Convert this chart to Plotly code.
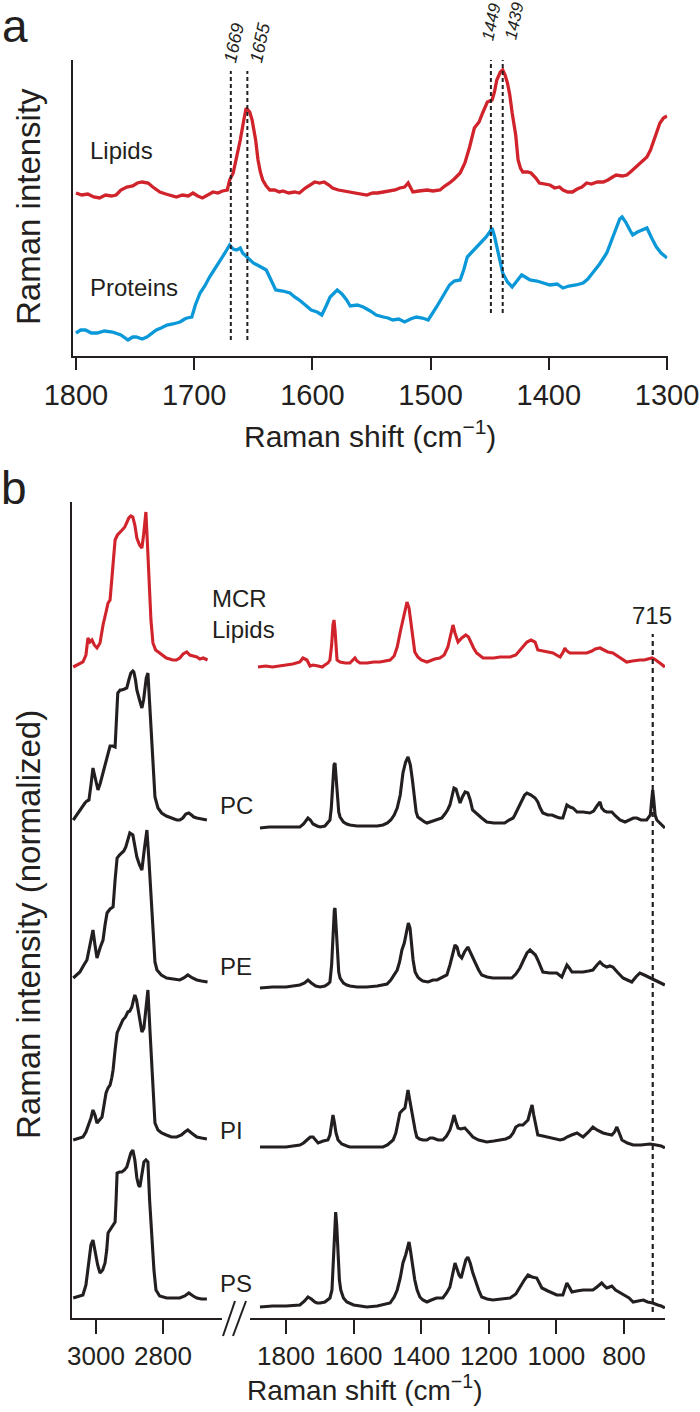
import plotly.graph_objects as go

# ---------------- Panel a data (Raman shift cm-1, intensity a.u.) ----------------
lip_a_x = [1800,1795,1790,1785,1780,1775,1770,1766,1762,1757,1752,1748,1744,1739,1735,1729,1724,1719,1715,1710,
           1705,1701,1697,1693,1689,1684,1680,1676,1672,1670,1667,1664,1661,1658,1656,1653,1651,1648,1646,1644,
           1642,1639,1636,1632,1628,1625,1620,1615,1611,1606,1602,1598,1594,1590,1586,1583,1578,1573,1568,1563,
           1558,1554,1549,1545,1540,1535,1530,1526,1522,1519,1517,1515,1510,1506,1503,1498,1492,1488,1484,1480,
           1475,1471,1467,1463,1459,1456,1452,1448,1446,1444,1441,1439,1437,1435,1433,1431,1428,1426,1424,1422,
           1418,1415,1411,1408,1404,1399,1395,1391,1388,1384,1380,1376,1372,1368,1364,1359,1354,1350,1346,1343,
           1338,1334,1330,1326,1322,1317,1314,1312,1309,1306,1303,1300]
lip_a_y = [5,3,4,1,0,3,2,3,8,11,12,15,16,15,11,6,4,2,1,3,
           2,5,2,0,3,6,5,7,8,18,25,40,58,78,90,86,78,58,38,26,
           18,12,8,8,6,7,5,6,5,10,13,16,15,16,13,10,8,7,6,5,
           4,3,5,5,6,7,8,10,11,15,11,6,7,8,8,7,8,12,15,19,
           25,35,51,70,76,85,96,98,106,118,126,128,123,115,103,85,63,38,30,26,
           26,25,20,15,14,13,10,11,8,6,6,9,11,15,14,16,16,18,21,23,
           22,23,27,31,35,41,48,55,66,75,80,82]

pro_a_x = [1800,1796,1792,1787,1782,1776,1769,1762,1756,1752,1749,1744,1740,1736,1732,1728,1723,1718,1712,1708,
           1706,1702,1699,1695,1691,1687,1683,1678,1674,1670,1667,1664,1661,1659,1654,1650,1645,1639,1635,1631,
           1625,1619,1615,1611,1606,1601,1596,1592,1588,1585,1579,1575,1571,1568,1562,1557,1551,1546,1540,1536,
           1532,1527,1522,1517,1512,1507,1502,1498,1495,1490,1484,1480,1475,1472,1469,1465,1461,1457,1453,1450,
           1448,1446,1444,1441,1439,1435,1431,1427,1423,1420,1416,1410,1405,1399,1393,1388,1383,1377,1371,1367,
           1363,1357,1351,1347,1343,1340,1338,1335,1331,1329,1325,1321,1317,1313,1309,1305,1300]
pro_a_y = [7,10,10,7,7,9,8,5,0,3,3,1,3,7,10,12,15,16,18,21,
           22,23,35,47,54,63,70,80,87,95,91,90,92,87,82,77,74,70,60,50,
           49,47,43,40,35,30,28,25,35,43,50,46,40,34,35,33,29,25,23,22,
           20,21,18,21,23,22,20,27,33,43,55,59,60,70,83,88,93,98,103,108,
           112,104,93,78,67,58,53,59,65,63,60,59,57,55,56,52,54,55,57,61,
           67,76,87,100,113,121,123,118,109,105,108,110,112,102,93,87,82]

# offsets used to stack the two spectra of panel a
offset_a = {"Lipids": 158, "Proteins": 16}
peaks_a = [1669, 1655, 1449, 1439]

# ---------------- Panel b data ----------------
# high-wavenumber region
hi_x = {
    "MCR": [3068,3055,3039,3030,3024,3018,3012,3005,2997,2988,2979,2970,2964,2958,2952,2946,2943,2936,2929,2922,
            2914,2908,2902,2896,2890,2884,2878,2870,2863,2858,2854,2851,2847,2842,2836,2830,2822,2810,2800,2790,
            2780,2771,2760,2750,2740,2729,2720,2710,2699,2690,2680,2667],
    "PC": [3068,3058,3048,3040,3033,3027,3021,3015,3009,3003,2994,2987,2979,2970,2964,2958,2950,2943,2939,2935,
           2928,2923,2915,2908,2902,2896,2890,2887,2882,2878,2870,2863,2858,2854,2850,2845,2840,2836,2833,2828,
           2824,2815,2804,2790,2775,2759,2750,2741,2732,2723,2715,2708,2699,2685,2669],
    "PE": [3068,3058,3048,3038,3027,3018,3009,3003,2997,2988,2979,2973,2967,2958,2949,2943,2937,2930,2923,2917,
           2911,2905,2899,2890,2884,2878,2870,2863,2856,2848,2842,2836,2830,2824,2818,2805,2789,2770,2750,2738,
           2726,2712,2699,2685,2667],
    "PI": [3068,3055,3039,3030,3024,3015,3009,3003,2997,2989,2982,2976,2970,2964,2958,2953,2949,2943,2937,2932,
           2929,2924,2920,2912,2905,2899,2893,2888,2884,2879,2875,2869,2863,2857,2851,2845,2839,2833,2828,2824,
           2815,2804,2790,2775,2759,2745,2735,2726,2715,2699,2685,2669],
    "PS": [3068,3055,3039,3030,3021,3015,3009,3003,2995,2988,2980,2973,2968,2964,2955,2949,2943,2940,2937,2930,
           2923,2915,2908,2902,2896,2890,2884,2878,2873,2869,2863,2857,2851,2845,2840,2836,2833,2827,2821,2810,
           2789,2770,2750,2735,2723,2710,2699,2685,2669],
}
hi_y = {
    "MCR": [1,3,6,13,30,26,28,23,20,25,43,56,65,68,93,120,128,133,136,138,
            141,146,150,152,151,143,130,123,120,133,150,156,128,88,48,25,18,15,12,10,
            9,8,8,10,14,16,13,12,11,9,10,8],
    "PC": [8,13,18,22,25,27,28,43,60,51,38,45,56,68,76,82,82,81,108,135,
           138,138,139,140,148,155,157,156,148,138,128,120,128,138,150,155,128,108,88,58,
           31,20,15,12,10,8,8,10,14,15,13,11,10,9,8],
    "PE": [10,13,16,22,28,43,58,43,30,40,48,63,75,79,81,108,130,133,135,137,
           141,148,155,153,143,131,123,118,138,158,128,95,53,26,18,13,10,9,8,10,
           13,10,8,7,6],
    "PI": [8,9,11,16,21,30,38,33,25,28,31,43,55,60,63,70,78,98,115,119,
           121,124,128,131,136,137,141,148,153,148,141,128,116,120,143,158,118,81,48,25,
           18,15,13,11,11,13,16,18,15,11,10,9],
    "PS": [10,11,13,23,48,63,68,56,43,35,38,45,58,75,80,83,86,108,135,136,
           136,138,141,148,155,158,148,130,123,121,133,146,148,146,108,83,68,38,18,12,
           10,10,10,12,15,12,10,9,9],
}
# fingerprint region
lo_x = {
    "MCR": [1883,1860,1840,1820,1800,1780,1759,1750,1744,1738,1729,1720,1705,1693,1685,1676,1670,1665,1661,1658,
            1655,1652,1649,1640,1625,1611,1600,1596,1590,1581,1560,1540,1522,1510,1492,1480,1471,1462,1454,1448,
            1442,1436,1431,1427,1422,1419,1410,1400,1383,1370,1360,1345,1332,1321,1312,1306,1300,1291,1280,1268,
            1260,1256,1245,1236,1225,1217,1200,1185,1167,1150,1137,1120,1108,1095,1087,1075,1063,1055,1040,1025,
            1010,995,989,980,975,969,960,945,930,910,895,885,871,860,848,833,815,800,792,775,
            760,753,740,725,717,710,700,690,679],
    "PC": [1877,1850,1820,1790,1759,1748,1740,1735,1728,1720,1708,1699,1685,1676,1670,1666,1662,1658,1655,1652,
           1648,1644,1640,1630,1620,1611,1590,1560,1530,1513,1500,1490,1480,1471,1462,1454,1446,1439,1432,1426,
           1420,1415,1410,1400,1390,1383,1374,1360,1350,1339,1330,1322,1315,1308,1303,1297,1290,1285,1278,1270,
           1262,1255,1248,1236,1221,1206,1185,1167,1153,1140,1128,1123,1110,1102,1094,1087,1075,1063,1055,1048,
           1040,1025,1013,999,990,981,975,969,960,951,939,921,901,890,880,871,866,858,851,836,
           825,812,797,785,772,762,750,733,722,718,715,712,708,703,695,686,679],
    "PE": [1877,1840,1800,1759,1745,1735,1725,1712,1699,1685,1676,1670,1665,1661,1657,1655,1652,1648,1644,1640,
           1630,1620,1611,1590,1561,1530,1501,1490,1480,1471,1464,1457,1450,1444,1438,1433,1428,1424,1418,1410,
           1404,1395,1380,1365,1353,1340,1324,1315,1306,1300,1294,1288,1280,1272,1262,1255,1248,1241,1230,1221,
           1205,1188,1160,1132,1120,1108,1097,1087,1078,1069,1062,1055,1048,1040,1020,999,984,975,969,962,
           954,940,921,905,892,880,871,862,851,842,833,820,803,790,777,765,753,740,723,705,
           690,679],
    "PI": [1877,1840,1800,1759,1748,1738,1728,1720,1713,1705,1690,1676,1670,1666,1661,1657,1652,1646,1635,1620,
           1611,1580,1550,1513,1500,1483,1475,1468,1463,1455,1448,1443,1439,1435,1430,1424,1418,1413,1405,1395,
           1383,1374,1365,1350,1336,1325,1315,1308,1303,1297,1291,1283,1271,1260,1247,1230,1206,1185,1167,1150,
           1137,1128,1120,1110,1099,1090,1084,1078,1072,1067,1063,1058,1055,1040,1028,1010,989,978,969,955,
           939,930,921,905,892,880,870,862,850,836,828,821,814,806,790,773,750,723,705,690,
           679],
    "PS": [1877,1840,1800,1759,1745,1735,1725,1715,1708,1699,1685,1670,1664,1660,1656,1653,1650,1646,1642,1638,
           1630,1620,1600,1580,1561,1530,1500,1492,1480,1471,1462,1454,1446,1440,1436,1432,1426,1419,1412,1404,
           1395,1383,1370,1355,1336,1325,1315,1308,1300,1295,1288,1282,1275,1268,1262,1255,1248,1241,1230,1221,
           1205,1188,1160,1137,1120,1108,1095,1084,1072,1058,1050,1043,1025,1010,999,981,975,969,962,954,
           940,921,905,892,880,866,858,851,843,836,825,812,800,785,773,758,743,730,715,700,
           690,679],
}
lo_y = {
    "MCR": [1,2,1,2,3,4,6,10,9,8,2,3,2,1,3,5,8,23,43,48,
            38,20,8,6,5,5,8,10,7,5,5,6,6,7,8,12,21,36,48,60,
            66,60,46,33,20,16,11,8,6,8,9,10,13,21,35,43,35,26,30,33,
            31,28,20,15,12,10,10,10,11,11,11,13,18,23,26,28,26,18,17,16,
            15,12,11,16,20,17,15,15,15,15,17,19,20,18,16,15,11,7,6,7,
            8,8,8,9,10,9,6,4,1],
    "PC": [0,1,1,1,1,4,8,10,8,4,2,1,2,5,8,20,43,63,65,53,
           28,16,11,6,4,3,2,2,2,3,5,8,13,20,33,55,66,71,63,48,
           28,16,11,8,6,5,6,8,9,10,14,18,23,33,40,39,30,25,31,36,
           35,28,18,14,10,6,5,5,5,8,10,13,22,28,33,35,33,30,26,20,
           15,13,13,11,10,10,18,23,21,20,16,16,15,17,22,26,20,17,16,16,
           12,8,6,8,10,10,8,8,13,28,38,28,13,8,5,2,0],
    "PE": [0,1,1,3,5,8,5,2,1,2,4,6,23,53,78,80,63,33,16,10,
           5,3,2,1,1,2,4,8,13,18,26,38,45,56,65,60,43,28,16,11,
           9,7,6,8,8,10,13,23,35,43,41,33,30,36,41,36,30,25,18,13,
           11,10,10,10,14,20,28,35,38,35,33,28,22,16,15,15,11,18,23,20,
           16,16,16,17,18,23,26,23,21,22,21,16,10,8,6,11,15,13,10,7,
           5,3],
    "PI": [1,1,1,3,5,8,11,11,8,5,7,8,13,23,33,26,15,8,4,2,
           1,1,1,1,3,8,15,26,35,38,40,50,58,50,40,31,18,11,9,8,
           8,10,10,8,8,12,18,26,33,26,20,19,20,16,11,8,6,7,8,9,
           11,15,21,23,23,26,28,36,43,33,26,18,13,12,11,9,8,9,11,13,
           15,13,11,16,21,18,16,15,14,13,16,21,15,8,5,3,3,4,3,2,
           0],
    "PS": [1,2,2,3,7,11,9,6,5,5,6,10,18,48,83,96,83,48,28,18,
           10,6,3,2,1,2,4,5,11,18,30,45,53,63,66,58,43,28,18,11,
           8,6,8,10,10,15,21,33,45,40,33,30,40,48,51,45,36,28,18,11,
           9,8,9,10,14,21,28,33,31,30,25,20,17,15,13,13,20,25,21,16,
           17,18,18,18,21,25,22,20,21,22,18,15,13,10,6,7,8,6,5,3,
           2,0],
}
spectra_b = ["MCR", "PC", "PE", "PI", "PS"]
offset_b = {"MCR": 650, "PC": 490, "PE": 330, "PI": 170, "PS": 10}
marker_b = 715

RED = "#d1232b"
BLUE = "#0b98d8"
BLACK = "#231f20"
FONT = "Liberation Sans, Arial, Helvetica, sans-serif"

W, H = 700, 1412
def px(x):
    return x / W
def py(y):
    return 1 - y / H

fig = go.Figure()

# panel a traces
fig.add_trace(go.Scatter(x=lip_a_x, y=[v + offset_a["Lipids"] for v in lip_a_y], mode="lines",
                         line=dict(color=RED, width=3.3), xaxis="x", yaxis="y", showlegend=False))
fig.add_trace(go.Scatter(x=pro_a_x, y=[v + offset_a["Proteins"] for v in pro_a_y], mode="lines",
                         line=dict(color=BLUE, width=3.3), xaxis="x", yaxis="y", showlegend=False))

# panel b traces
for name in spectra_b:
    col = RED if name == "MCR" else BLACK
    fig.add_trace(go.Scatter(x=hi_x[name], y=[v + offset_b[name] for v in hi_y[name]], mode="lines",
                             line=dict(color=col, width=3.1), xaxis="x2", yaxis="y2", showlegend=False))
    fig.add_trace(go.Scatter(x=lo_x[name], y=[v + offset_b[name] for v in lo_y[name]], mode="lines",
                             line=dict(color=col, width=3.1), xaxis="x3", yaxis="y3", showlegend=False))

axis_common = dict(showline=True, linecolor=BLACK, linewidth=2, showgrid=False, zeroline=False,
                   ticks="outside", tickcolor=BLACK, tickwidth=2, automargin=False,
                   ticklabeloverflow="allow")
yaxis_common = dict(showline=True, linecolor=BLACK, linewidth=2, showgrid=False, zeroline=False,
                    showticklabels=False, ticks="", automargin=False)

fig.update_layout(
    template="none",
    width=W, height=H, margin=dict(l=0, r=0, t=0, b=0, pad=0, autoexpand=False),
    paper_bgcolor="white", plot_bgcolor="white",
    font=dict(family=FONT, color=BLACK),
    xaxis=dict(domain=[px(73), px(667.5)], range=[1802.5, 1299.6], anchor="y",
               tickvals=[1800, 1700, 1600, 1500, 1400, 1300], ticklen=12,
               tickfont=dict(size=29, family=FONT, color=BLACK), **axis_common),
    yaxis=dict(domain=[py(356), py(60)], range=[0, 296], anchor="x", **yaxis_common),
    xaxis2=dict(domain=[px(72), px(222)], range=[3071.6, 2623.9], anchor="y2",
                tickvals=[3000, 2800], ticklen=14,
                tickfont=dict(size=26, family=FONT, color=BLACK), **axis_common),
    yaxis2=dict(domain=[py(1318), py(502)], range=[0, 816], anchor="x2", **yaxis_common),
    xaxis3=dict(domain=[px(250), px(665)], range=[1906.5, 678.7], anchor="y3",
                tickvals=[1800, 1600, 1400, 1200, 1000, 800], ticklen=14,
                tickfont=dict(size=26, family=FONT, color=BLACK), **axis_common),
    yaxis3=dict(domain=[py(1318), py(502)], range=[0, 816], anchor="x3",
                showline=False, showgrid=False, zeroline=False, visible=False),
)

shapes = []
# dashed peak markers in panel a
for pk in peaks_a[:2]:
    shapes.append(dict(type="line", xref="x", yref="y", x0=pk, x1=pk, y0=16, y1=285,
                       line=dict(color=BLACK, width=2, dash="4px,3px")))
for pk in peaks_a[2:]:
    shapes.append(dict(type="line", xref="x", yref="y", x0=pk, x1=pk, y0=43, y1=309,
                       line=dict(color=BLACK, width=2, dash="4px,3px")))
# dashed 715 line panel b
shapes.append(dict(type="line", xref="x3", yref="y3", x0=marker_b, x1=marker_b, y0=6, y1=684,
                   line=dict(color=BLACK, width=2.2, dash="5px,4px")))
# axis break marks
shapes.append(dict(type="line", xref="paper", yref="paper", x0=px(223), y0=py(1336), x1=px(235), y1=py(1301),
                   line=dict(color=BLACK, width=2)))
shapes.append(dict(type="line", xref="paper", yref="paper", x0=px(233), y0=py(1336), x1=px(246), y1=py(1301),
                   line=dict(color=BLACK, width=2)))
fig.update_layout(shapes=shapes)

def ann(text, x, y, size, xanchor="center", yanchor="middle", angle=0, italic=False):
    return dict(text=text, x=px(x), y=py(y), xref="paper", yref="paper", showarrow=False,
                xanchor=xanchor, yanchor=yanchor, textangle=angle,
                font=dict(size=size, family=FONT, color=BLACK, style="italic" if italic else "normal"))

annotations = [
    ann("a", 15, 26, 46),
    ann("b", 14, 488, 46),
    ann("Raman intensity", 28, 207, 33, angle=-90),
    ann("Raman shift (cm<sup>\u22121</sup>)", 370, 434, 30),
    ann("Lipids", 88, 151, 24, xanchor="left"),
    ann("Proteins", 88, 287, 24, xanchor="left"),
    ann(str(peaks_a[0]), 234, 43, 18, angle=-78, italic=True),
    ann(str(peaks_a[1]), 260, 43, 18, angle=-78, italic=True),
    ann(str(peaks_a[2]), 492, 22, 17, angle=-78, italic=True),
    ann(str(peaks_a[3]), 515, 21, 17, angle=-78, italic=True),
    ann("Raman intensity (normalized)", 28, 925, 33, angle=-90),
    ann("Raman shift (cm<sup>\u22121</sup>)", 365, 1388, 28),
    ann("MCR", 210, 598, 24, xanchor="left"),
    ann("Lipids", 210, 629, 24, xanchor="left"),
    ann("PC", 218, 805, 24, xanchor="left"),
    ann("PE", 218, 966, 24, xanchor="left"),
    ann("PI", 218, 1130, 24, xanchor="left"),
    ann("PS", 218, 1283, 24, xanchor="left"),
    ann(str(marker_b), 652, 615, 24),
]
fig.update_layout(annotations=annotations)

fig.write_html("out.html", config={"displayModeBar": False},
               post_script="document.body.style.margin='0px';")
